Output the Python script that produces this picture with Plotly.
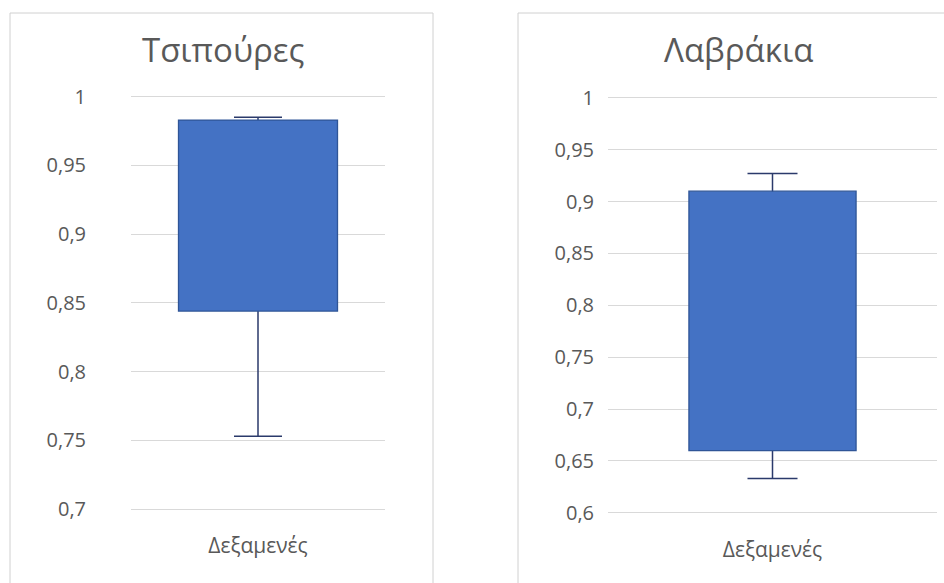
import plotly.graph_objects as go

# Summary statistics of the two groups (one category each)
categories = ["Δεξαμενές"]
titles = ["Τσιπούρες", "Λαβράκια"]
whisker_low = [0.753, 0.633]
box_low = [0.844, 0.660]
box_high = [0.983, 0.910]
whisker_high = [0.985, 0.927]
y_ranges = [[0.7, 1.0], [0.6, 1.0]]

W, H = 944, 583
BOX_FILL = "#4472C4"
BOX_EDGE = "#2F5597"
WHISKER = "#2B3A6B"
GRID = "#D9D9D9"
TEXT = "#595959"
FONT = "Open Sans"

# panel geometry in pixels: (x0, x1, y of top value, y of bottom value)
plot_px = [(131, 385, 96.7, 509.0), (608, 937, 97.8, 512.8)]
box_widths = [0.626, 0.508]
cap_half = [24, 25]
title_x_px = [223, 738]
panel_px = [(10, 433), (518, 950)]
PAD_PX = 4  # keeps the end gridlines inside the plotting area

fig = go.Figure()
layout_axes = {}
annotations = []
shapes = []

for i in range(2):
    xa = "x" if i == 0 else f"x{i + 1}"
    ya = "y" if i == 0 else f"y{i + 1}"
    span = whisker_high[i] - whisker_low[i]

    # whisker: transparent bar spanning the full range, error bar pointing down
    fig.add_trace(go.Bar(
        x=categories, base=[whisker_low[i]], y=[span],
        width=box_widths[i],
        marker=dict(color="rgba(0,0,0,0)", line=dict(width=0)),
        error_y=dict(type="data", symmetric=False, array=[0], arrayminus=[span],
                     color=WHISKER, thickness=1.5, width=cap_half[i]),
        xaxis=xa, yaxis=ya, showlegend=False, hoverinfo="skip",
    ))
    # interquartile box drawn on top of the whisker line
    fig.add_trace(go.Bar(
        x=categories, base=[box_low[i]], y=[box_high[i] - box_low[i]],
        width=box_widths[i],
        marker=dict(color=BOX_FILL, line=dict(color=BOX_EDGE, width=1.3)),
        xaxis=xa, yaxis=ya, showlegend=False,
    ))

    x0, x1, yt, yb = plot_px[i]
    lo, hi = y_ranges[i]
    pad = PAD_PX * (hi - lo) / (yb - yt)
    suffix = "" if i == 0 else str(i + 1)
    layout_axes[f"xaxis{suffix}"] = dict(
        domain=[x0 / W, x1 / W], anchor=ya, type="category", automargin=False,
        range=[-0.5, 0.5], showgrid=False, showline=False, zeroline=False,
        ticks="", ticklabelstandoff=22 - PAD_PX,
        tickfont=dict(family=FONT, size=21, color=TEXT),
    )
    layout_axes[f"yaxis{suffix}"] = dict(
        domain=[1 - (yb + PAD_PX) / H, 1 - (yt - PAD_PX) / H], anchor=xa,
        automargin=False,
        range=[lo - pad, hi + pad], dtick=0.05, tick0=0, tickformat=".2~f",
        showgrid=True, gridcolor=GRID, gridwidth=1,
        showline=False, zeroline=False, ticks="",
        ticklabelstandoff=44 if i == 0 else 13,
        tickfont=dict(family=FONT, size=20, color=TEXT),
    )

    annotations.append(dict(
        text=titles[i], xref="paper", yref="paper",
        x=title_x_px[i] / W, y=1 - 50 / H, xanchor="center", yanchor="middle",
        showarrow=False, font=dict(family=FONT, size=33, color=TEXT),
    ))
    px0, px1 = panel_px[i]
    shapes.append(dict(
        type="rect", xref="paper", yref="paper", layer="below",
        x0=px0 / W, x1=px1 / W, y0=-0.05, y1=1 - 13 / H,
        line=dict(color="#D0D0D0", width=1), fillcolor="white",
    ))

fig.update_layout(
    width=W, height=H, margin=dict(l=0, r=0, t=0, b=0),
    paper_bgcolor="white", plot_bgcolor="rgba(0,0,0,0)",
    barmode="overlay", separators=",.",
    showlegend=False, annotations=annotations, shapes=shapes,
    font=dict(family=FONT, color=TEXT),
    **layout_axes,
)

fig.write_html("out.html")
